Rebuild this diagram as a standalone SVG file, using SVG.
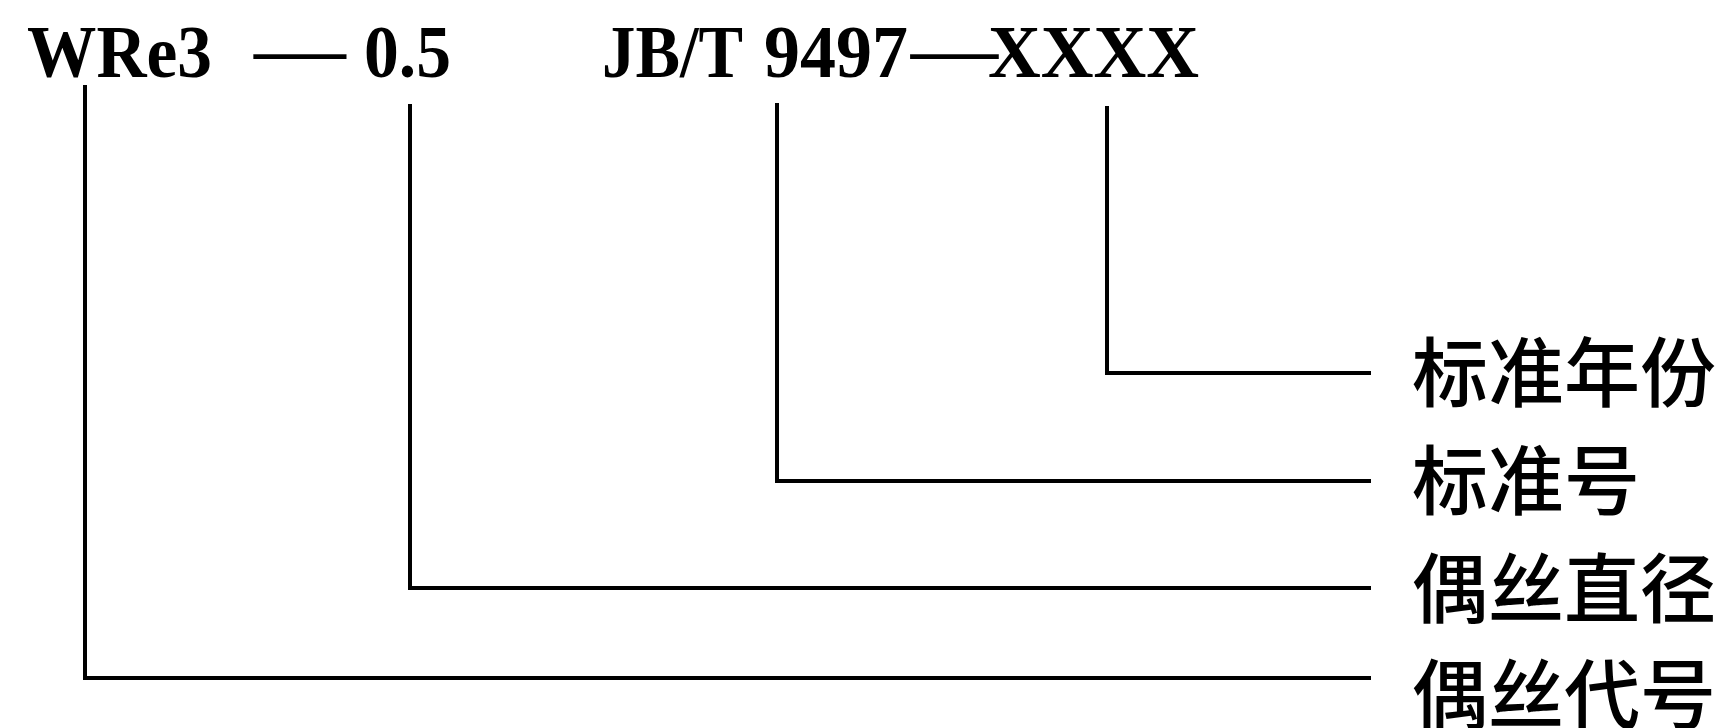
<svg xmlns="http://www.w3.org/2000/svg" width="1718" height="728" viewBox="0 0 1718 728">
<style>
.code{font-family:"Liberation Serif","Times New Roman",serif;font-weight:bold;font-size:74px;fill:#000}
.dash{font-family:"Noto Sans CJK SC",sans-serif;font-size:76px;fill:#000}
.lab{font-family:"Noto Sans CJK SC",sans-serif;font-weight:500;font-size:76px;fill:#000}
.conn{fill:none;stroke:#000;stroke-width:4;stroke-linejoin:miter;stroke-linecap:butt}
</style>
<rect width="1718" height="728" fill="#fff"/>
<g id="code">
  <text class="code" x="27" y="77" textLength="185" lengthAdjust="spacingAndGlyphs">WRe3</text>
  <text class="dash" x="248" y="78" textLength="104" lengthAdjust="spacingAndGlyphs">—</text>
  <text class="code" x="364" y="77" textLength="87" lengthAdjust="spacingAndGlyphs">0.5</text>
  <text class="code" x="602" y="77" textLength="141" lengthAdjust="spacingAndGlyphs">JB/T</text>
  <text class="code" x="764" y="77" textLength="144" lengthAdjust="spacingAndGlyphs">9497</text>
  <text class="dash" x="905" y="78" textLength="99" lengthAdjust="spacingAndGlyphs">—</text>
  <text class="code" x="988" y="77" textLength="211" lengthAdjust="spacingAndGlyphs">XXXX</text>
</g>
<g id="connectors">
  <path class="conn" d="M85,85 V678 H1371"/>
  <path class="conn" d="M410,104 V588 H1371"/>
  <path class="conn" d="M777,103 V481 H1371"/>
  <path class="conn" d="M1107,106 V373 H1371"/>
</g>
<g id="label-year"><text class="lab" x="1412" y="401">标准年份</text></g>
<g id="label-std"><text class="lab" x="1412" y="509">标准号</text></g>
<g id="label-dia"><text class="lab" x="1412" y="617">偶丝直径</text></g>
<g id="label-code"><text class="lab" x="1412" y="723">偶丝代号</text></g>
</svg>
